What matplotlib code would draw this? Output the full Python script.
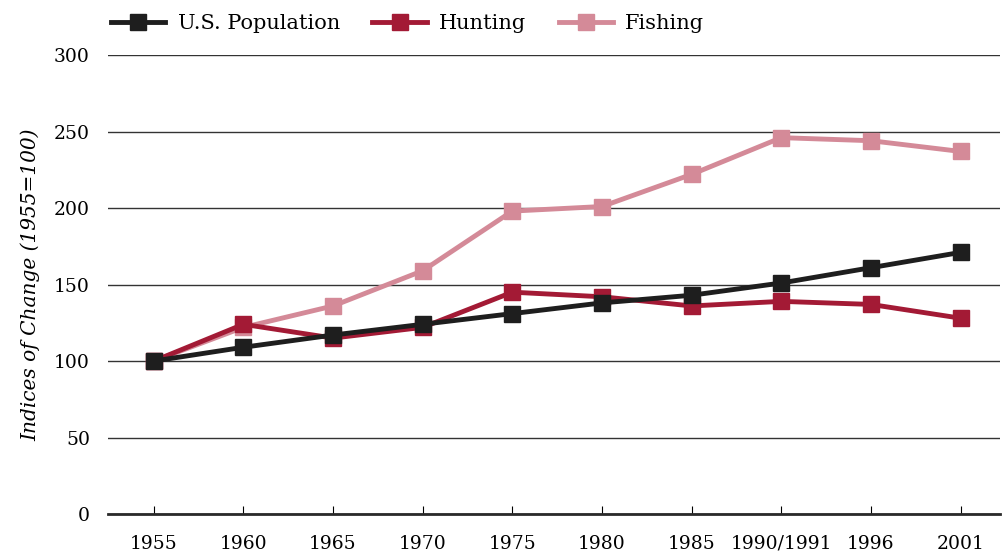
import matplotlib.pyplot as plt

# --- data ---
YEARS = ["1955", "1960", "1965", "1970", "1975", "1980", "1985", "1990/1991", "1996", "2001"]
US_POPULATION = [100, 109, 117, 124, 131, 138, 143, 151, 161, 171]
HUNTING = [100, 124, 115, 122, 145, 142, 136, 139, 137, 128]
FISHING = [100, 122, 136, 159, 198, 201, 222, 246, 244, 237]

SERIES = [
    ("Fishing", FISHING, "#d48a98"),
    ("Hunting", HUNTING, "#a31a35"),
    ("U.S. Population", US_POPULATION, "#1e1e1e"),
]

plt.rcParams['font.family'] = ['DejaVu Serif']

fig = plt.figure(figsize=(10.05, 5.56), dpi=100)
ax = fig.add_axes([0.1075, 0.0755, 0.8875, 0.8255])

x = list(range(len(YEARS)))
handles = {}
for name, vals, color in SERIES:
    line, = ax.plot(x, vals, color=color, linewidth=3.5, marker='s',
                    markersize=11, label=name, zorder=3)
    handles[name] = line

ax.set_ylim(0, 300)
ax.set_xlim(-0.51, 9.44)
ax.set_yticks(range(0, 301, 50))
ax.set_xticks(x)
ax.set_xticklabels(YEARS)
ax.yaxis.grid(True, color='#333333', linewidth=1)
ax.set_axisbelow(True)

for side in ['top', 'right', 'left']:
    ax.spines[side].set_visible(False)
ax.spines['bottom'].set_linewidth(2)
ax.spines['bottom'].set_color('#2a2a2a')
ax.spines['bottom'].set_zorder(4)

ax.tick_params(axis='y', length=0, pad=13, labelsize=13.5)
ax.tick_params(axis='x', direction='in', length=6, width=0.8, pad=15, labelsize=13.5)
ax.set_ylabel("Indices of Change (1955=100)", fontstyle='italic', fontsize=14.5, labelpad=10)

order = ["U.S. Population", "Hunting", "Fishing"]
fig.legend([handles[n] for n in order], order, loc='upper left',
           bbox_to_anchor=(0.092, 1.008), ncol=3, frameon=False, fontsize=15,
           handlelength=2.6, handletextpad=0.6, columnspacing=1.55)

fig.savefig("out.png", dpi=100)
